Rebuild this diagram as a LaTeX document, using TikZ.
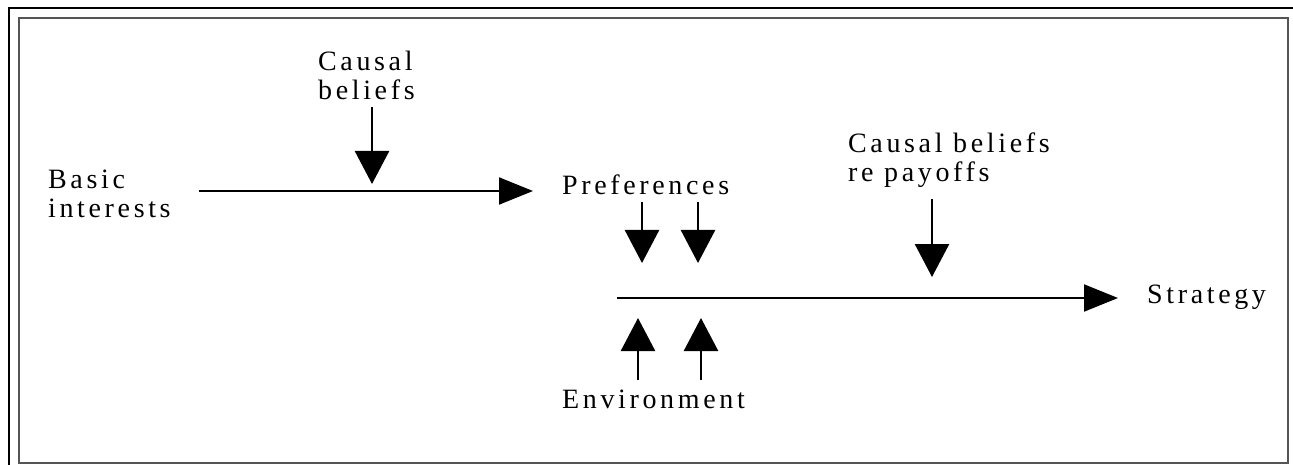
\documentclass[tikz,border=0pt]{standalone}
\usepackage{fontspec}
\setmainfont{Liberation Serif}[LetterSpace=13]
\usepackage{tikz}
\usetikzlibrary{arrows.meta}
\definecolor{framegray}{RGB}{85,85,85}

\begin{document}
\begin{tikzpicture}[x=1pt,y=-1pt,
    lbl/.style={anchor=base west,inner sep=0pt,align=left,font=\fontsize{28}{29}\selectfont},
    hflow/.style={line width=2pt,-{Triangle[length=34pt,width=27pt]}},
    vflow/.style={line width=2.6pt,-{Triangle[length=33pt,width=34pt]}}]
    \useasboundingbox (0,0) rectangle (1293,465);

    % Frame
    \draw[line width=1.5pt] (9,465) -- (9,8) -- (1293,8);
    \draw[framegray,line width=2.5pt] (19,18) rectangle (1288,463);

    % Labels (two-line labels sit on the baseline of their last line)
    \node[lbl] (basic) at (48,218) {Basic\\interests};
    \node[lbl] (cbel) at (318,100) {Causal\\beliefs};
    \node[lbl] (pref) at (562,195) {Preferences};
    \node[lbl] (env) at (562,408) {Environment};
    \node[lbl] (cpay) at (848,182) {Causal beliefs\\re payoffs};
    \node[lbl] (strat) at (1147,303) {Strategy};

    % End points of the arrows
    \coordinate (top1) at (199,191);
    \coordinate (top2) at (533,191);
    \coordinate (low1) at (617,298);
    \coordinate (low2) at (1118,298);

    % Main flow
    \draw[hflow] (top1) -- (top2);
    \draw[hflow] (low1) -- (low2);

    % Influences on the flow
    \draw[vflow] (372,107) coordinate (cbelin) -- (372,184);
    \draw[vflow] (932,199) coordinate (cpayin) -- (932,277);
    \foreach \x in {642,698} {
        \draw[vflow] (\x,202) -- (\x,263);
    }
    \foreach \x in {638,701} {
        \draw[vflow] (\x,380) -- (\x,318);
    }
\end{tikzpicture}
\end{document}
